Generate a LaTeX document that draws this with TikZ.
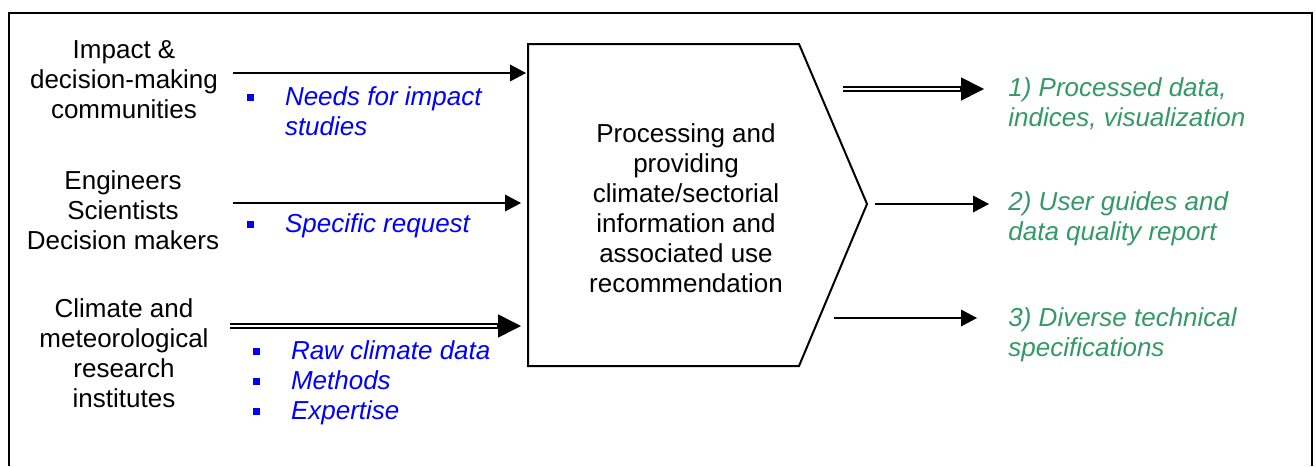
\documentclass[tikz,border=0pt]{standalone}
\usepackage{fontspec}
\setmainfont{Liberation Sans}
\usetikzlibrary{arrows.meta}
\usepackage{xcolor}
\definecolor{outgreen}{RGB}{51,153,102}
\newcommand{\sqb}{\textcolor{blue}{\rule[0.17em]{3.5pt}{3.5pt}}}

\begin{document}
\begin{tikzpicture}
	[x=0.5pt, y=-0.5pt, font=\fontsize{13}{15}\selectfont,
	 arr/.style={line width=0.8pt, -{Triangle[length=8pt,width=8.3pt]}},
	 dbl/.style={double, line width=0.9pt, double distance=1.4pt, shorten >=10pt},
	 bigtip/.style={line width=0.8pt, -{Triangle[length=11.5pt,width=11.5pt]}},
	 inlist/.style={anchor=west, inner sep=0pt, text=blue, font=\fontsize{13}{15}\selectfont\itshape},
	 outtxt/.style={anchor=west, align=left, inner sep=0pt, text=outgreen, font=\fontsize{13}{15}\selectfont\itshape}]
	\useasboundingbox (0,0) rectangle (1316,466);
	\draw [line width=1pt] (9,466) -- (9,13) -- (1312,13) -- (1312,466);

	% processing shape
	\draw [line width=1pt] (528,44) -- (799,44) -- (867,204) -- (799,366) -- (528,366) -- cycle;
	\node [align=center] (proc) at (686,208) {Processing and\\providing\\climate/sectorial\\information and\\associated use\\recommendation};

	% user communities
	\node [align=center] (u1) at (124,80) {Impact \&\\decision-making\\communities};
	\node [align=center] (u2) at (123,210) {Engineers\\Scientists\\Decision makers};
	\node [align=center] (u3) at (124,353) {Climate and\\meteorological\\research\\institutes};

	\node [inlist] (b1) at (247,114.5) {\begin{tabular}{@{}l@{\hspace{15.3pt}}l@{}}\sqb & Needs for impact\\ & studies\end{tabular}};
	\node [inlist] (b2) at (247,226) {\begin{tabular}{@{}l@{\hspace{15.3pt}}l@{}}\sqb & Specific request\end{tabular}};
	\node [inlist] (b3) at (253,383) {\begin{tabular}{@{}l@{\hspace{15.3pt}}l@{}}\sqb & Raw climate data\\ \sqb & Methods\\ \sqb & Expertise\end{tabular}};

	% products
	\node [outtxt] (p1) at (1008,103.5) {1) Processed data,\\indices, visualization};
	\node [outtxt] (p2) at (1008,219) {2) User guides and\\data quality report};
	\node [outtxt] (p3) at (1008,335) {3) Diverse technical\\specifications};

	\coordinate (s1) at (233,73);  \coordinate (e1) at (526,73);
	\coordinate (s2) at (233,203); \coordinate (e2) at (521,203);
	\coordinate (s3) at (230,326); \coordinate (e3) at (521,326);
	\coordinate (o1) at (843,89);  \coordinate (f1) at (984,89);
	\coordinate (o2) at (875,204); \coordinate (f2) at (989,204);
	\coordinate (o3) at (834,318); \coordinate (f3) at (977,318);

	\foreach \from/\to in {s1/e1,s2/e2,o2/f2,o3/f3}
	\draw [arr] (\from) -- (\to);

	\foreach \from/\to in {s3/e3,o1/f1}
	{\draw [dbl] (\from) -- (\to);
	 \draw [bigtip] ([xshift=-12pt]\to) -- (\to);}
\end{tikzpicture}
\end{document}
